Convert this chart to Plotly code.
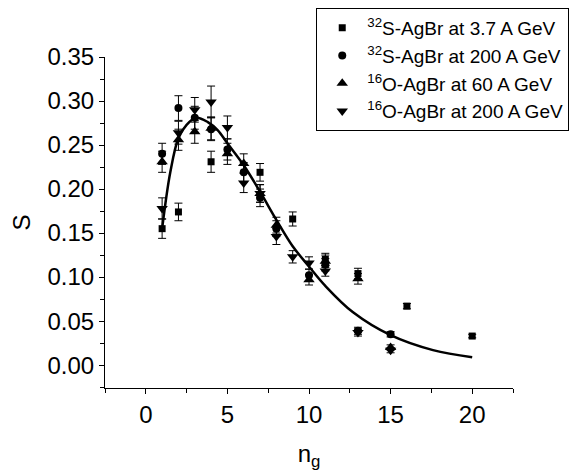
import plotly.graph_objs as go

# 32S-AgBr at 3.7 A GeV
n_s37 = [1, 2, 4, 7, 9, 11, 13, 16, 20]
s_s37 = [0.155, 0.174, 0.231, 0.219, 0.166, 0.120, 0.104, 0.067, 0.033]
e_s37 = [0.011, 0.010, 0.012, 0.010, 0.008, 0.007, 0.006, 0.003, 0.002]

# 32S-AgBr at 200 A GeV
n_s200 = [1, 2, 3, 4, 5, 6, 7, 8, 10, 11, 13, 15]
s_s200 = [0.240, 0.292, 0.281, 0.268, 0.245, 0.219, 0.190, 0.155, 0.102, 0.114, 0.039, 0.035]
e_s200 = [0.012, 0.014, 0.013, 0.013, 0.012, 0.011, 0.010, 0.009, 0.007, 0.007, 0.004, 0.003]

# 16O-AgBr at 60 A GeV
n_o60 = [1, 2, 3, 4, 5, 6, 7, 8, 10, 11, 13, 15]
s_o60 = [0.231, 0.256, 0.265, 0.269, 0.240, 0.229, 0.195, 0.159, 0.097, 0.118, 0.098, 0.020]
e_o60 = [0.012, 0.012, 0.013, 0.013, 0.012, 0.011, 0.010, 0.009, 0.006, 0.007, 0.006, 0.003]

# 16O-AgBr at 200 A GeV
n_o200 = [1, 2, 3, 4, 5, 6, 7, 8, 9, 10, 11, 13, 15]
s_o200 = [0.178, 0.264, 0.290, 0.299, 0.270, 0.207, 0.195, 0.146, 0.123, 0.116, 0.107, 0.037, 0.017]
e_o200 = [0.012, 0.013, 0.014, 0.018, 0.013, 0.011, 0.010, 0.009, 0.007, 0.007, 0.006, 0.004, 0.003]

# fitted curve
n_fit = [1, 1.5, 2, 2.5, 3.1, 3.8, 4.4, 5, 6, 7, 8, 9, 10, 11, 12.7, 15, 17.6, 20]
s_fit = [0.155, 0.219, 0.258, 0.273, 0.281, 0.276, 0.267, 0.252, 0.227, 0.197,
         0.165, 0.135, 0.112, 0.090, 0.060, 0.034, 0.017, 0.009]

names = ['<sup>32</sup>S-AgBr at 3.7 A GeV',
         '<sup>32</sup>S-AgBr at 200 A GeV',
         '<sup>16</sup>O-AgBr at 60 A GeV',
         '<sup>16</sup>O-AgBr at 200 A GeV']

FONT = 'Liberation Sans, Arial, sans-serif'


def err(e):
    return dict(type='data', array=e, visible=True, color='black',
                thickness=1, width=4)


trace_s37 = go.Scatter(x=n_s37, y=s_s37, mode='markers', name=names[0],
                       error_y=err(e_s37),
                       marker=dict(symbol='square', size=7, color='black'))
trace_s200 = go.Scatter(x=n_s200, y=s_s200, mode='markers', name=names[1],
                        error_y=err(e_s200),
                        marker=dict(symbol='circle', size=8, color='black'))
trace_o60 = go.Scatter(x=n_o60, y=s_o60, mode='markers', name=names[2],
                       error_y=err(e_o60),
                       marker=dict(symbol='triangle-up', size=10, color='black'))
trace_o200 = go.Scatter(x=n_o200, y=s_o200, mode='markers', name=names[3],
                        error_y=err(e_o200),
                        marker=dict(symbol='triangle-down', size=10, color='black'))
trace_fit = go.Scatter(x=n_fit, y=s_fit, mode='lines', showlegend=False,
                       line=dict(color='black', width=2.5, shape='spline'))

# page body adds 8px, so the figure is 8px smaller than the window
layout = go.Layout(
    width=574, height=466,
    margin=dict(l=97, r=69, t=49, b=86, autoexpand=False),
    paper_bgcolor='white', plot_bgcolor='white',
    font=dict(family=FONT, color='black'),
    showlegend=True,
    legend=dict(xref='container', yref='container', x=0.537, y=1.0,
                xanchor='left', yanchor='top',
                bordercolor='black', borderwidth=1, bgcolor='white',
                font=dict(size=19), itemwidth=40),
    xaxis=dict(
        title=dict(text='n<sub>g</sub>', font=dict(size=24), standoff=18),
        range=[-2.5, 22.5], tickvals=[0, 5, 10, 15, 20],
        showline=True, linecolor='black', linewidth=1,
        ticks='outside', ticklen=5, tickcolor='black',
        tickfont=dict(size=24), showgrid=False, zeroline=False,
        minor=dict(tickvals=[-2.5, 2.5, 7.5, 12.5, 17.5, 22.5], ticks='outside',
                   ticklen=4, tickcolor='black')),
    yaxis=dict(
        title=dict(text='S', font=dict(size=24), standoff=16),
        range=[-0.026, 0.35], tickvals=[0, 0.05, 0.1, 0.15, 0.2, 0.25, 0.3, 0.35],
        tickformat='.2f',
        showline=True, linecolor='black', linewidth=1,
        ticks='outside', ticklen=5, tickcolor='black',
        tickfont=dict(size=24), showgrid=False, zeroline=False,
        minor=dict(tickvals=[-0.025, 0.025, 0.075, 0.125, 0.175, 0.225, 0.275, 0.325],
                   ticks='outside', ticklen=4, tickcolor='black')))

data = [trace_fit, trace_s37, trace_s200, trace_o60, trace_o200]
fig = go.Figure(data=data, layout=layout)
fig.write_html("out.html")
